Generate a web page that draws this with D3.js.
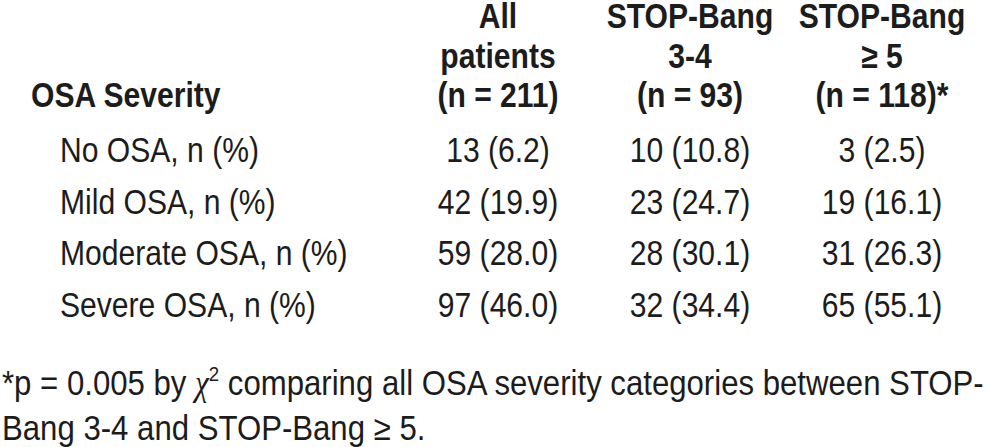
<!DOCTYPE html>
<html>
<head>
<meta charset="utf-8">
<script src="https://cdn.jsdelivr.net/npm/d3@7"></script>
<style>
  html, body { margin: 0; padding: 0; background: #fff; }
  text { font-family: "Liberation Sans", Arial, sans-serif; fill: #1c1c1c; }
</style>
</head>
<body>
<svg id="chart" width="988" height="447"></svg>
<script>
// table data
const categories = ["No OSA, n (%)", "Mild OSA, n (%)", "Moderate OSA, n (%)", "Severe OSA, n (%)"];
const groups = ["all", "sb34", "sb5"];
const headerAll = ["All", "patients", "(n = 211)"];
const headerSb34 = ["STOP-Bang", "3-4", "(n = 93)"];
const headerSb5 = ["STOP-Bang", "\u2265 5", "(n = 118)*"];
const countsAll = [13, 42, 59, 97];
const pctAll = [6.2, 19.9, 28.0, 46.0];
const countsSb34 = [10, 23, 28, 32];
const pctSb34 = [10.8, 24.7, 30.1, 34.4];
const countsSb5 = [3, 19, 31, 65];
const pctSb5 = [2.5, 16.1, 26.3, 55.1];
const rowHeader = "OSA Severity";
const footLine1 = ["*p = 0.005 by ", "\u03c7", "2", " comparing all OSA severity categories between STOP-"];
const footLine2 = "Bang 3-4 and STOP-Bang \u2265 5.";

const svg = d3.select("#chart");
const narrow = 0.86;   // the source font is a condensed sans
const fs = 35;
const fmt = d3.format(".1f");

const x = d3.scaleBand().domain(groups).range([402, 978]);
const y = d3.scalePoint().domain(categories).range([162, 317]);
const hy = d3.scalePoint().domain([0, 1, 2]).range([28, 107]);

const headers = { all: headerAll, sb34: headerSb34, sb5: headerSb5 };
const cells = {
  all: countsAll.map((c, i) => `${c} (${fmt(pctAll[i])})`),
  sb34: countsSb34.map((c, i) => `${c} (${fmt(pctSb34[i])})`),
  sb5: countsSb5.map((c, i) => `${c} (${fmt(pctSb5[i])})`)
};

function place(sel, px, py, sx) {
  return sel.attr("transform", (d, i) => `translate(${px(d, i)},${py(d, i)}) scale(${sx},1)`);
}

// column headers
groups.forEach(g => {
  const cx = x(g) + x.bandwidth() / 2;
  svg.append("g").selectAll("text")
    .data(headers[g])
    .join("text")
    .call(place, () => cx, (d, i) => hy(i), narrow)
    .attr("text-anchor", "middle")
    .attr("font-size", fs)
    .attr("font-weight", "bold")
    .text(d => d);
});

svg.append("text")
  .call(place, () => 31, () => hy(2), narrow)
  .attr("font-size", fs)
  .attr("font-weight", "bold")
  .text(rowHeader);

// row labels
svg.append("g").selectAll("text")
  .data(categories)
  .join("text")
  .call(place, () => 60, d => y(d), narrow)
  .attr("font-size", fs)
  .text(d => d);

// cell values
groups.forEach(g => {
  const cx = x(g) + x.bandwidth() / 2;
  svg.append("g").selectAll("text")
    .data(cells[g])
    .join("text")
    .call(place, () => cx, (d, i) => y(categories[i]), narrow)
    .attr("text-anchor", "middle")
    .attr("font-size", fs)
    .text(d => d);
});

// footnote
const f1 = svg.append("text")
  .attr("transform", `translate(2,395) scale(0.89,1)`)
  .attr("font-size", 35);
f1.append("tspan").text(footLine1[0]);
f1.append("tspan").attr("font-family", "Liberation Serif, serif").attr("font-style", "italic").text(footLine1[1]);
f1.append("tspan").attr("font-size", 21).attr("dy", -14).text(footLine1[2]);
f1.append("tspan").attr("dy", 14).text(footLine1[3]);

svg.append("text")
  .attr("transform", `translate(2,440) scale(0.89,1)`)
  .attr("font-size", 35)
  .text(footLine2);
</script>
</body>
</html>
